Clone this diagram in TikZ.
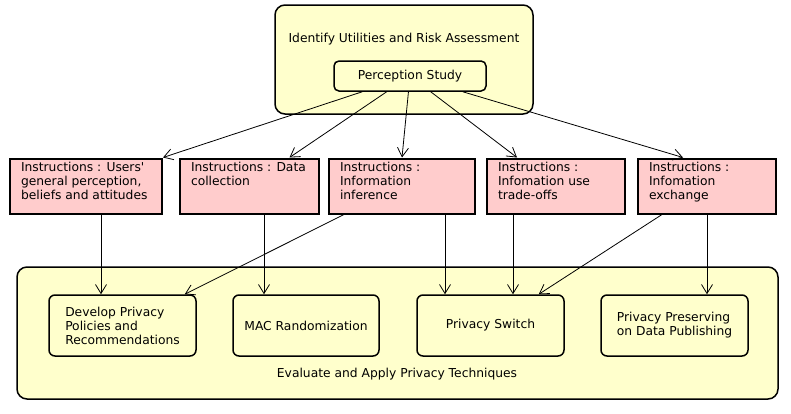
\documentclass[tikz,border=0pt]{standalone}
\usepackage{fontspec}
\setmainfont{DejaVu Sans}
\usetikzlibrary{arrows.meta}
\definecolor{myyellow}{RGB}{255,255,204}
\definecolor{mypink}{RGB}{255,204,204}

\newcommand{\instrtext}[2]{\parbox[t][48pt][t]{#1}{\raggedright #2}}

\begin{document}
\begin{tikzpicture}[x=1pt, y=-1pt,
  every node/.style={font=\fontsize{12.3}{14}\selectfont},
  stage/.style={draw, line width=1.5, fill=myyellow, rounded corners=10},
  method/.style={draw, line width=1.5, fill=myyellow, rounded corners=6, align=left, minimum height=61, inner sep=0},
  instr/.style={draw, line width=2, fill=mypink, inner xsep=11, inner ysep=3.5},
  flow/.style={-{Straight Barb[length=9pt,width=11pt]}, line width=0.8}
]
\useasboundingbox (0,0) rectangle (791,413);

\node[stage, minimum width=258, minimum height=109] (identify) at (404,59.5) {};
\node at (404,39) {Identify Utilities and Risk Assessment};
\node[draw, line width=1.5, fill=myyellow, rounded corners=5, minimum width=152, minimum height=30] (percep) at (410,76) {Perception Study};

\node[instr] (iusers) at (86,186) {\instrtext{130pt}{Instructions : Users\textquotesingle\\general perception,\\beliefs and attitudes}};
\node[instr] (idata) at (249.5,186) {\instrtext{117pt}{Instructions : Data\\collection}};
\node[instr] (iinfer) at (402,186) {\instrtext{124pt}{Instructions :\\Information\\inference}};
\node[instr] (itrade) at (556,186) {\instrtext{116pt}{Instructions :\\Infomation use\\trade-offs}};
\node[instr] (iexch) at (707,186) {\instrtext{116pt}{Instructions :\\Infomation\\exchange}};

\node[stage, minimum width=761, minimum height=132] (evaluate) at (397.5,333) {};
\node at (397,374) {Evaluate and Apply Privacy Techniques};
\node[method, minimum width=147] (policies) at (122.5,325.5) {Develop Privacy\\Policies and\\Recommendations};
\node[method, minimum width=146] (macrand) at (306,325.5) {MAC Randomization};
\node[method, minimum width=147] (pswitch) at (490.5,325.5) {Privacy Switch};
\node[method, minimum width=147] (ppdp) at (674.5,325.5) {Privacy Preserving\\on Data Publishing};

\draw[flow] (percep) -- (iusers.north east);
\draw[flow] (percep) -- ([xshift=40]idata.north);
\draw[flow] (percep) -- (iinfer.north);
\draw[flow] (percep) -- ([xshift=-39]itrade.north);
\draw[flow] (percep) -- ([xshift=-24]iexch.north);

\draw[flow] ([xshift=15]iusers.south) -- ([xshift=-21.5]policies.north);
\draw[flow] ([xshift=14.5]idata.south) -- ([xshift=-42]macrand.north);
\draw[flow] ([xshift=-58]iinfer.south) -- ([xshift=-12]policies.north east);
\draw[flow] ([xshift=43]iinfer.south) -- ([xshift=-45.5]pswitch.north);
\draw[flow] ([xshift=-43]itrade.south) -- ([xshift=22.5]pswitch.north);
\draw[flow] ([xshift=-45]iexch.south) -- ([xshift=-26]pswitch.north east);
\draw[flow] (iexch.south) -- ([xshift=32.5]ppdp.north);

\end{tikzpicture}
\end{document}
